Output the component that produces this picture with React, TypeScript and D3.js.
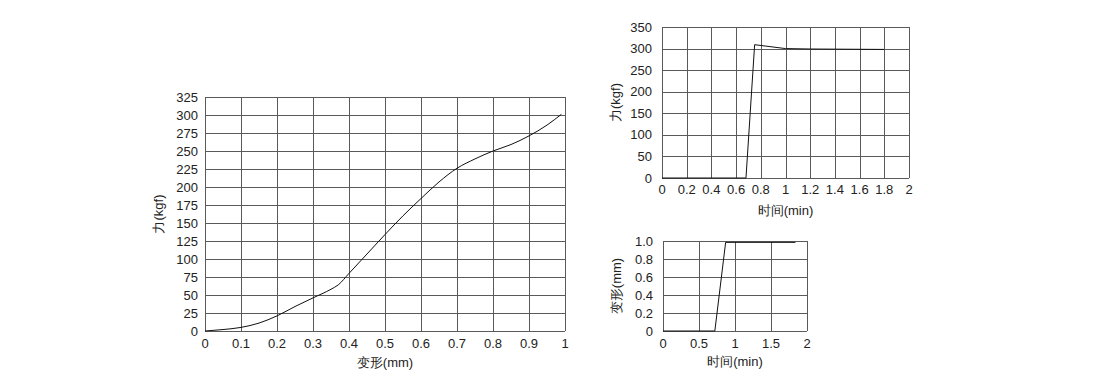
import React from "react";
import * as d3 from "d3";

// Chart 1: force vs deformation
const deformX = [0, 0.05, 0.1, 0.15, 0.2, 0.25, 0.3, 0.35, 0.37, 0.4, 0.45, 0.5, 0.55, 0.6, 0.65, 0.7, 0.75, 0.8, 0.85, 0.9, 0.95, 0.99];
const forceY = [0, 2, 5, 11, 21, 34, 46, 58, 64, 80, 107, 134, 160, 184, 207, 226, 239, 250, 259, 271, 286, 301];
const c1XTicks = [0, 0.1, 0.2, 0.3, 0.4, 0.5, 0.6, 0.7, 0.8, 0.9, 1];
const c1YTicks = [0, 25, 50, 75, 100, 125, 150, 175, 200, 225, 250, 275, 300, 325];

// Chart 2: force vs time
const timeF = [0, 0.68, 0.75, 1.0, 1.2, 1.8];
const forceT = [0, 0, 309, 300, 299, 298];
const c2XTicks = [0, 0.2, 0.4, 0.6, 0.8, 1, 1.2, 1.4, 1.6, 1.8, 2];
const c2YTicks = [0, 50, 100, 150, 200, 250, 300, 350];

// Chart 3: deformation vs time
const timeD = [0, 0.72, 0.87, 1.84];
const deformT = [0, 0, 0.985, 0.985];
const c3XTicks = [0, 0.5, 1, 1.5, 2];
const c3YTicks = [0, 0.2, 0.4, 0.6, 0.8, 1.0];

const FONT = "'Liberation Sans', Arial, sans-serif";
const GRID = "#5a5a5a";
const TEXT = "#222";

type ChartProps = {
  xs: number[];
  ys: number[];
  xTicks: number[];
  yTicks: number[];
  x0: number; x1: number; y0: number; y1: number;
  xMax: number; yMax: number;
  xFmt: (v: number) => string;
  yFmt: (v: number) => string;
  xTitle: string; yTitle: string;
  yTitleX: number; xTitleY: number;
  xLabelY: number; yLabelGap: number;
  smooth?: boolean;
};

function Chart(p: ChartProps) {
  const x = d3.scaleLinear().domain([0, p.xMax]).range([p.x0, p.x1]);
  const y = d3.scaleLinear().domain([0, p.yMax]).range([p.y1, p.y0]);
  const pts = p.xs.map((v, i) => [v, p.ys[i]] as [number, number]);
  const line = d3.line<[number, number]>()
    .x((d) => x(d[0]))
    .y((d) => y(d[1]))
    .curve(p.smooth ? d3.curveMonotoneX : d3.curveLinear);
  return (
    <g fontFamily={FONT} fontSize={13} fill={TEXT}>
      {p.xTicks.map((t) => (
        <line key={"gx" + t} x1={Math.round(x(t)) + 0.5} x2={Math.round(x(t)) + 0.5} y1={p.y0} y2={p.y1} stroke={GRID} strokeWidth={1} />
      ))}
      {p.yTicks.map((t) => (
        <line key={"gy" + t} x1={p.x0} x2={p.x1} y1={Math.round(y(t)) + 0.5} y2={Math.round(y(t)) + 0.5} stroke={GRID} strokeWidth={1} />
      ))}
      {p.xTicks.map((t) => (
        <text key={"tx" + t} x={x(t)} y={p.xLabelY} textAnchor="middle" dominantBaseline="central">{p.xFmt(t)}</text>
      ))}
      {p.yTicks.map((t) => (
        <text key={"ty" + t} x={p.x0 - p.yLabelGap} y={y(t)} textAnchor="end" dominantBaseline="central">{p.yFmt(t)}</text>
      ))}
      <path d={line(pts) || ""} fill="none" stroke="#111" strokeWidth={1} />
      <text x={(p.x0 + p.x1) / 2} y={p.xTitleY} textAnchor="middle" dominantBaseline="central">{p.xTitle}</text>
      <text transform={`translate(${p.yTitleX},${(p.y0 + p.y1) / 2}) rotate(-90)`} textAnchor="middle" dominantBaseline="central">{p.yTitle}</text>
    </g>
  );
}

export default function App() {
  return (
    <svg width={1110} height={385} style={{ position: "absolute", left: 0, top: 0, background: "#fff" }}>
      <Chart
        xs={deformX} ys={forceY} xTicks={c1XTicks} yTicks={c1YTicks}
        x0={205} x1={565} y0={97} y1={331} xMax={1} yMax={325}
        xFmt={(v) => String(v)} yFmt={(v) => String(v)}
        xTitle="变形(mm)" yTitle="力(kgf)" yTitleX={158} xTitleY={362}
        xLabelY={343} yLabelGap={7} smooth
      />
      <Chart
        xs={timeF} ys={forceT} xTicks={c2XTicks} yTicks={c2YTicks}
        x0={662} x1={909} y0={27} y1={178} xMax={2} yMax={350}
        xFmt={(v) => String(v)} yFmt={(v) => String(v)}
        xTitle="时间(min)" yTitle="力(kgf)" yTitleX={615} xTitleY={210}
        xLabelY={189} yLabelGap={10}
      />
      <Chart
        xs={timeD} ys={deformT} xTicks={c3XTicks} yTicks={c3YTicks}
        x0={663} x1={807} y0={241} y1={331} xMax={2} yMax={1}
        xFmt={(v) => String(v)} yFmt={(v) => v.toFixed(1).replace(/^0\.0$/, "0")}
        xTitle="时间(min)" yTitle="变形(mm)" yTitleX={616} xTitleY={361}
        xLabelY={343} yLabelGap={10}
      />
    </svg>
  );
}
